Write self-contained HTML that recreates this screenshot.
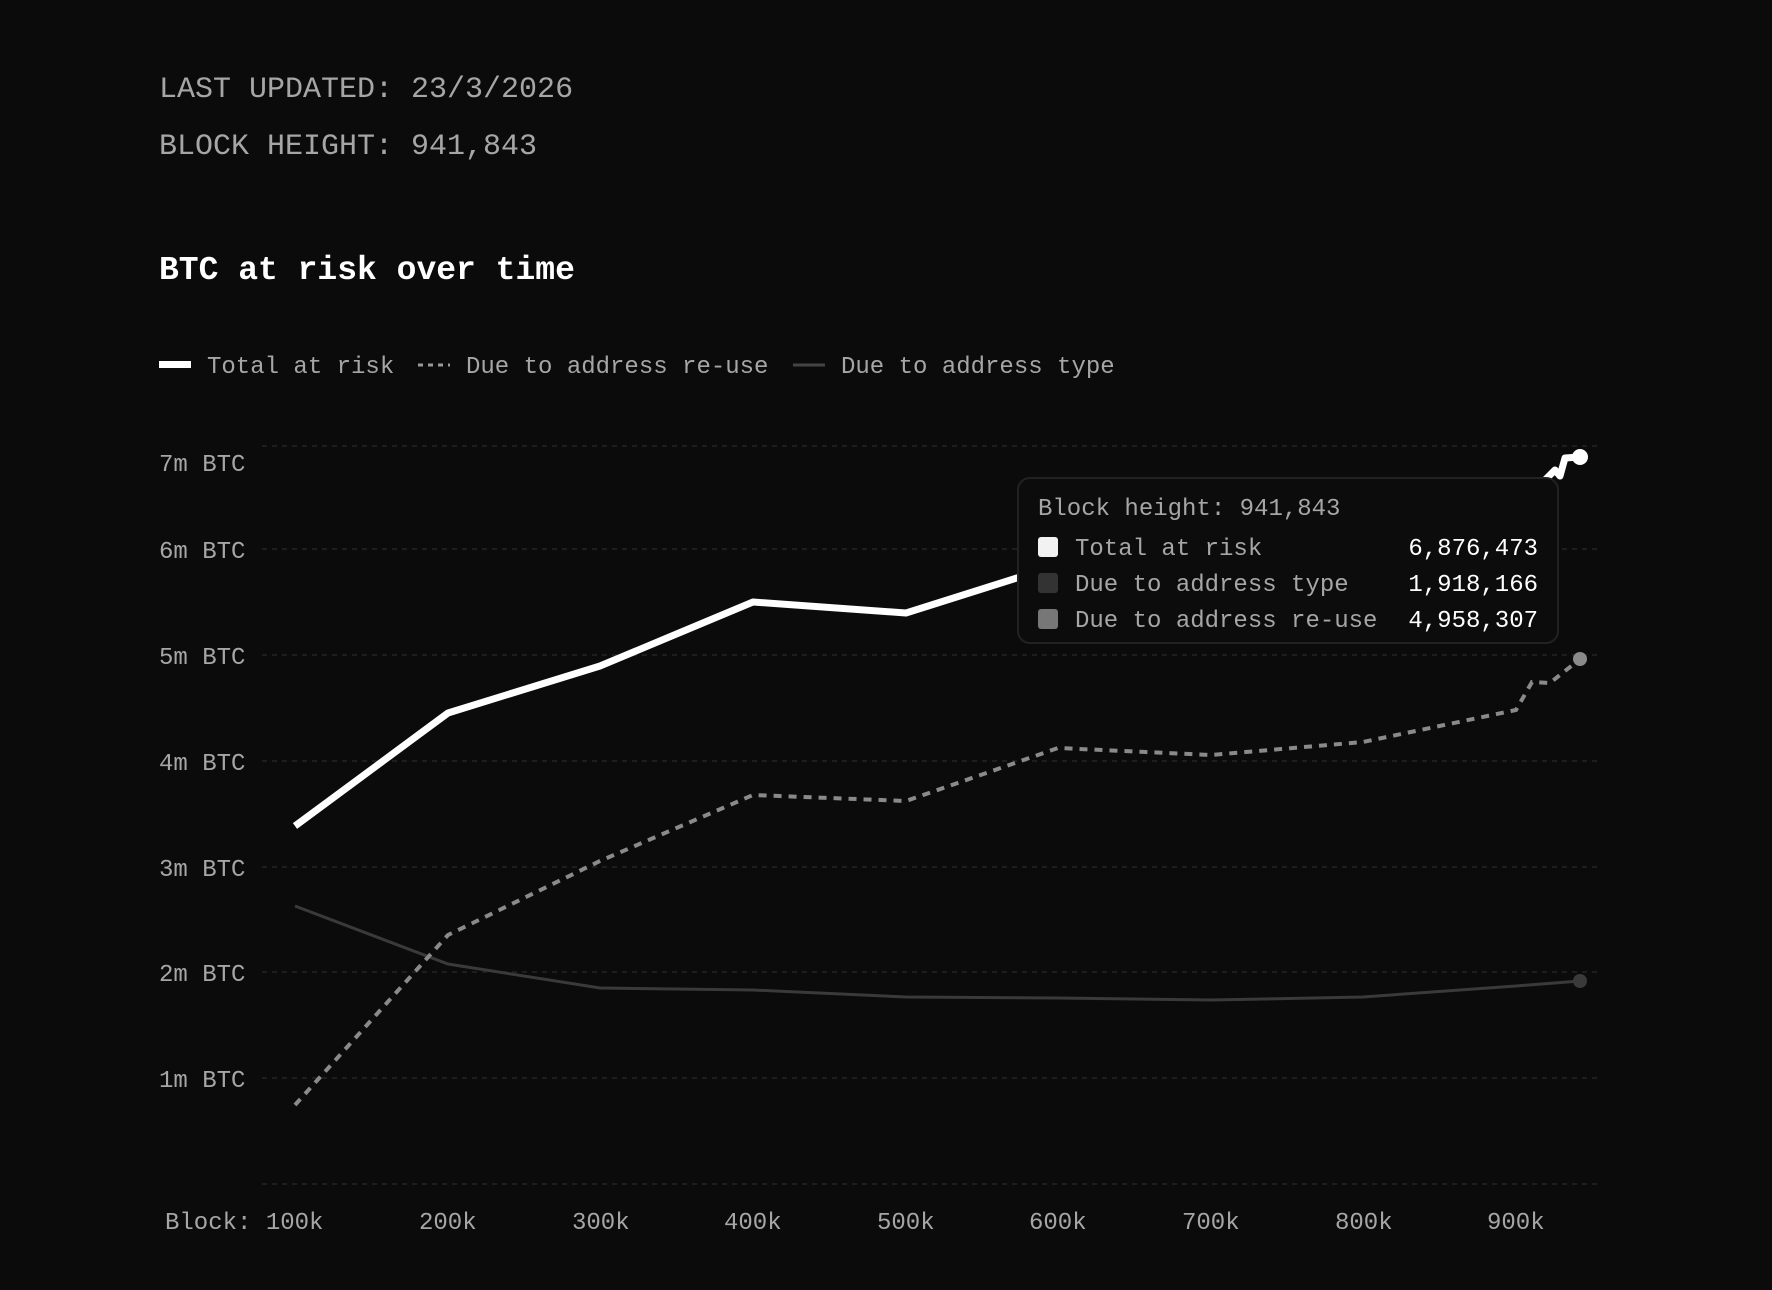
<!DOCTYPE html>
<html><head><meta charset="utf-8"><style>
html,body{margin:0;padding:0;background:#0b0b0b;}
body{width:1772px;height:1290px;overflow:hidden;position:relative;font-family:"Liberation Mono",monospace;}
.t{position:absolute;white-space:nowrap;}
</style></head><body>
<div class="t" style="left:159px;top:73px;font-size:30px;color:#a6a6a6;">LAST UPDATED: 23/3/2026</div>
<div class="t" style="left:159px;top:130px;font-size:30px;color:#a6a6a6;">BLOCK HEIGHT: 941,843</div>
<div class="t" style="left:159px;top:252px;font-size:33px;color:#fff;font-weight:bold;">BTC at risk over time</div>
<svg width="1772" height="1290" style="position:absolute;left:0;top:0" font-family="Liberation Mono, monospace">
<g fill="#a6a6a6" font-size="24">
<rect x="159" y="361" width="32" height="7" fill="#fff"/>
<text x="207" y="373">Total at risk</text>
<line x1="418" y1="365" x2="450" y2="365" stroke="#999" stroke-width="3" stroke-dasharray="5,5"/>
<text x="466" y="373">Due to address re-use</text>
<line x1="793" y1="365" x2="825" y2="365" stroke="#444" stroke-width="3"/>
<text x="841" y="373">Due to address type</text>
</g>
<g stroke="#242424" stroke-width="1.5" stroke-dasharray="5,5">
<line x1="262" y1="1184" x2="1599" y2="1184"/>
<line x1="262" y1="1078" x2="1599" y2="1078"/>
<line x1="262" y1="972" x2="1599" y2="972"/>
<line x1="262" y1="867" x2="1599" y2="867"/>
<line x1="262" y1="761" x2="1599" y2="761"/>
<line x1="262" y1="655" x2="1599" y2="655"/>
<line x1="262" y1="549" x2="1599" y2="549"/>
<line x1="262" y1="446" x2="1599" y2="446"/>
</g>
<g fill="#a6a6a6" font-size="24">
<text x="159" y="471">7m BTC</text>
<text x="159" y="558">6m BTC</text>
<text x="159" y="664">5m BTC</text>
<text x="159" y="770">4m BTC</text>
<text x="159" y="876">3m BTC</text>
<text x="159" y="981">2m BTC</text>
<text x="159" y="1087">1m BTC</text>
<text x="165" y="1229">Block: 100k</text>
<text x="419" y="1229">200k</text>
<text x="572" y="1229">300k</text>
<text x="724" y="1229">400k</text>
<text x="877" y="1229">500k</text>
<text x="1029" y="1229">600k</text>
<text x="1182" y="1229">700k</text>
<text x="1335" y="1229">800k</text>
<text x="1487" y="1229">900k</text>
</g>
<polyline fill="none" stroke="#3a3a3a" stroke-width="3" points="295,906 448,964 600,988 753,990 906,997 1058,998 1211,1000 1363,997 1516,986 1580,981"/>
<circle cx="1580" cy="981" r="7" fill="#3a3a3a"/>
<polyline fill="none" stroke="#8a8a8a" stroke-width="4" stroke-dasharray="8,7" points="295,1105 448,935 600,861 753,795 906,801 1058,748 1211,755 1363,742 1516,710 1532,682 1550,683 1580,659"/>
<circle cx="1580" cy="659" r="7" fill="#8a8a8a"/>
<polyline fill="none" stroke="#fff" stroke-width="7" stroke-linejoin="round" points="295,826 448,713 600,666 753,602 906,613 1058,565 1211,544 1363,528 1516,508 1545,480 1555,470 1560,476 1565,458 1580,457"/>
<circle cx="1580" cy="457" r="8" fill="#fff"/>
<rect x="1018" y="478" width="540" height="165" rx="12" fill="#0c0c0c" stroke="#222" stroke-width="2"/>
<g font-size="24">
<text x="1038" y="515" fill="#a6a6a6">Block height: 941,843</text>
<rect x="1038" y="537" width="20" height="20" rx="3" fill="#f2f2f2"/>
<rect x="1038" y="573" width="20" height="20" rx="3" fill="#333"/>
<rect x="1038" y="609" width="20" height="20" rx="3" fill="#777"/>
<text x="1075" y="555" fill="#a6a6a6">Total at risk</text>
<text x="1075" y="591" fill="#a6a6a6">Due to address type</text>
<text x="1075" y="627" fill="#a6a6a6">Due to address re-use</text>
<g fill="#fff" text-anchor="end">
<text x="1538" y="555">6,876,473</text>
<text x="1538" y="591">1,918,166</text>
<text x="1538" y="627">4,958,307</text>
</g>
</g>
</svg>
</body></html>
